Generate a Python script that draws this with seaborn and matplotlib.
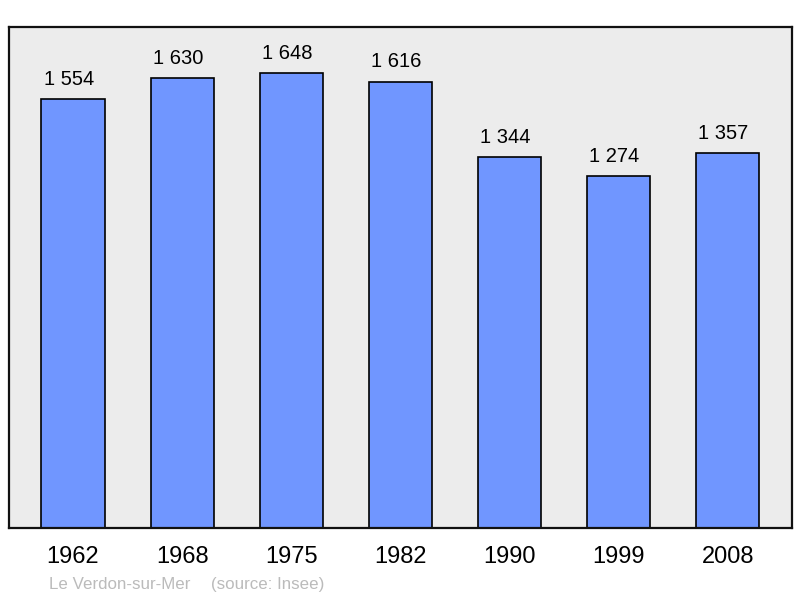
import matplotlib
matplotlib.use("Agg")
import matplotlib.pyplot as plt
import pandas as pd
import seaborn as sns

# census years and population of Le Verdon-sur-Mer
years = ["1962", "1968", "1975", "1982", "1990", "1999", "2008"]
population = [1554, 1630, 1648, 1616, 1344, 1274, 1357]
value_labels = ["1 554", "1 630", "1 648", "1 616", "1 344", "1 274", "1 357"]


def main():
    sns.set_style("white")
    plt.rcParams['font.family'] = ['Liberation Sans', 'DejaVu Sans']

    df = pd.DataFrame({"year": years, "pop": population})

    fig = plt.figure(figsize=(8, 5.98), dpi=100)
    ax = fig.add_axes([0.0115, 0.117, 0.978, 0.838])
    ax.set_facecolor("#ececec")

    sns.barplot(data=df, x="year", y="pop", color="#7096ff", saturation=1,
                width=0.58, edgecolor="black", linewidth=1.2, ax=ax)

    # value labels above each bar
    for i, (v, lab) in enumerate(zip(population, value_labels)):
        ax.annotate(lab, (i, v), xytext=(-3, 7.5), textcoords="offset points",
                    ha="center", va="bottom", fontsize=14.5, color="black")

    ax.set_xlim(-0.585, 6.585)
    ax.set_ylim(0, 1815)
    ax.set_yticks([])
    ax.set_xlabel("")
    ax.set_ylabel("")
    ax.tick_params(axis="x", length=0, pad=13, labelsize=17, labelcolor="black")
    for s in ax.spines.values():
        s.set_visible(True)
        s.set_linewidth(1.6)
        s.set_color("#111111")

    fig.text(0.061, 0.015, "Le Verdon-sur-Mer", color="#bbbbbb", fontsize=12.2)
    fig.text(0.264, 0.015, "(source: Insee)", color="#bbbbbb", fontsize=12.2)

    fig.savefig("out.png", dpi=100)


if __name__ == "__main__":
    main()
